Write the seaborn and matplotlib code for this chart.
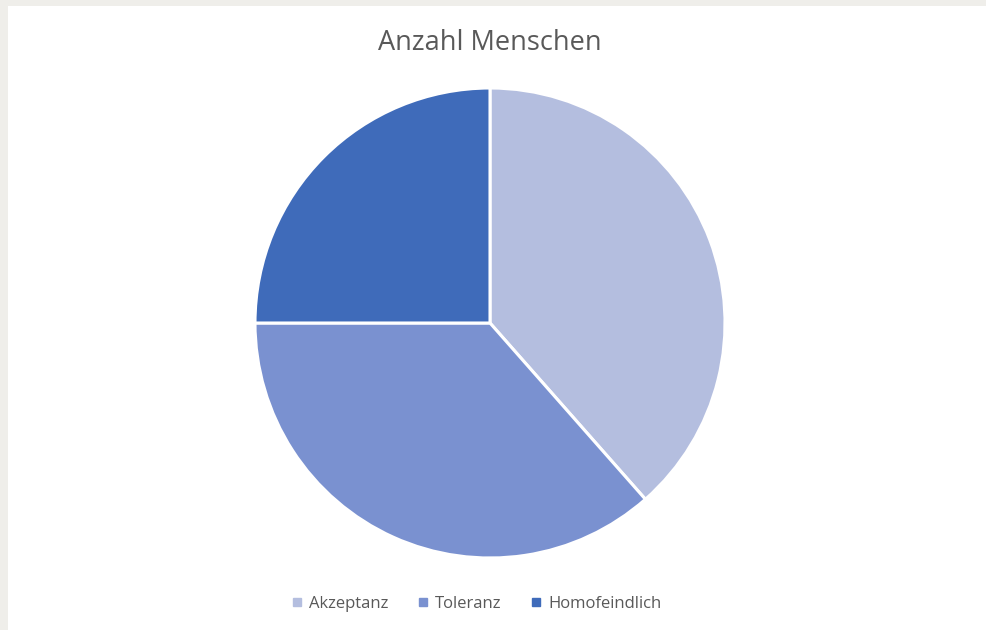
import seaborn as sns
import matplotlib.pyplot as plt
from matplotlib.lines import Line2D

# data
categories = ["Akzeptanz", "Toleranz", "Homofeindlich"]
values = [38.5, 36.5, 25]
colors = ["#B4BEDF", "#7A91D0", "#3F6BBA"]

sns.set_theme(style="white")
plt.rcParams['font.family'] = ['Open Sans', 'DejaVu Sans']

W, H = 987, 630
fig = plt.figure(figsize=(W / 100, H / 100), dpi=100)
fig.patch.set_facecolor("#EFEEEA")

# white chart area (grey strip on the top and left)
bg = fig.add_axes([8 / W, 0, 1 - 8 / W, 1 - 6 / H], zorder=-1)
bg.set_facecolor("white")
bg.set_xticks([])
bg.set_yticks([])
for s in bg.spines.values():
    s.set_visible(False)

# pie: centre (490, 323) px, radius 235 px
cx, cy, r = 490, H - 323, 235
ax = fig.add_axes([(cx - r) / W, (cy - r) / H, 2 * r / W, 2 * r / H])
ax.pie(values, colors=colors, startangle=90, counterclock=False,
       wedgeprops={'edgecolor': 'white', 'linewidth': 2.2})
ax.set_aspect("equal")
ax.set_xlim(-1, 1)
ax.set_ylim(-1, 1)
ax.axis("off")

fig.text(cx / W, 1 - 43 / H, "Anzahl Menschen", ha="center", va="center",
         fontsize=19.5, color="#595959")

handles = [Line2D([0], [0], marker="s", linestyle="none", markersize=6,
                  markerfacecolor=c, markeredgecolor=c) for c in colors]
fig.legend(handles, categories, loc="center", bbox_to_anchor=(475 / W, 1 - 604 / H),
           ncol=3, frameon=False, fontsize=12, labelcolor="#595959",
           handletextpad=0.2, columnspacing=1.6, handlelength=1.0)

fig.savefig("out.png", dpi=100, facecolor=fig.get_facecolor())
